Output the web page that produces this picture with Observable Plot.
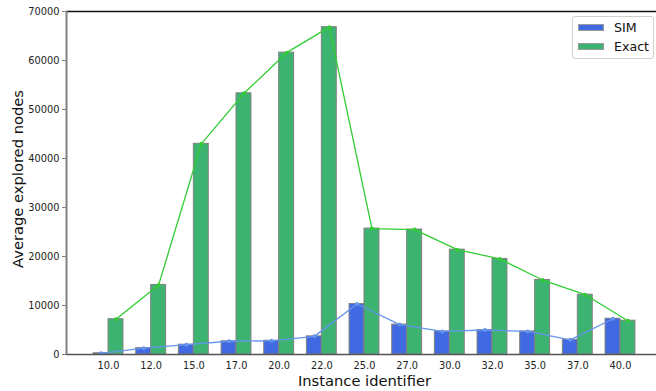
<!DOCTYPE html>
<html>
<head>
<meta charset="utf-8">
<script src="https://cdn.jsdelivr.net/npm/d3@7"></script>
<script src="https://cdn.jsdelivr.net/npm/@observablehq/plot@0.6"></script>
<style>
  body { margin: 0; background: #fff; }
  #wrap { position: relative; width: 656px; height: 391px; overflow: hidden; font-family: "DejaVu Sans", sans-serif; }
  #legend { position: absolute; left: 572px; top: 16px; width: 82px; height: 43px; border: 1px solid #d0d0d0; border-radius: 3px; background: rgba(255,255,255,0.8); box-sizing: border-box; }
  .item { position: absolute; left: 5px; display: flex; align-items: center; font-size: 12.6px; color: #111; }
  .sw { width: 26px; height: 7px; margin-right: 10px; box-sizing: border-box; }
</style>
</head>
<body>
<div id="wrap"></div>
<script>
const categories = ["10.0","12.0","15.0","17.0","20.0","22.0","25.0","27.0","30.0","32.0","35.0","37.0","40.0"];
const simValues = [250, 1300, 2000, 2700, 2800, 3700, 10300, 6100, 4700, 5000, 4700, 3000, 7300];
const exactValues = [7200, 14200, 43000, 53300, 61600, 66800, 25700, 25500, 21400, 19500, 15200, 12200, 6900];
const seriesNames = ["SIM", "Exact"];
const barColors = ["#4169E1", "#3CB371"];
const lineColors = ["#6495ED", "#32CD32"];
const yTicks = [0, 10000, 20000, 30000, 40000, 50000, 60000, 70000];

const rows = categories.map((c, i) => ({i, c, sim: simValues[i], exact: exactValues[i]}));
const W = 0.35;

const chart = Plot.plot({
  width: 656,
  height: 391,
  marginLeft: 66,
  marginRight: 0,
  marginTop: 11,
  marginBottom: 37,
  style: {fontFamily: "DejaVu Sans", fontSize: "9.8px", color: "#222", background: "white"},
  x: {type: "linear", domain: [-0.985, 12.985], range: [66, 662]},
  y: {domain: [0, 70000]},
  marks: [
    Plot.rectY(rows, {x1: d => d.i - W, x2: d => d.i, y1: 0, y2: "sim", fill: barColors[0], stroke: "#808080", strokeWidth: 1}),
    Plot.rectY(rows, {x1: d => d.i, x2: d => d.i + W, y1: 0, y2: "exact", fill: barColors[1], stroke: "#808080", strokeWidth: 1}),
    Plot.line(rows, {x: d => d.i - W / 2, y: "sim", stroke: lineColors[0], strokeWidth: 1.3}),
    Plot.dot(rows, {x: d => d.i - W / 2, y: "sim", fill: lineColors[0], r: 2}),
    Plot.line(rows, {x: d => d.i + W / 2, y: "exact", stroke: lineColors[1], strokeWidth: 1.3}),
    Plot.dot(rows, {x: d => d.i + W / 2, y: "exact", fill: lineColors[1], r: 2}),
    Plot.axisY({ticks: yTicks, tickFormat: d => String(d), tickSize: 4, tickPadding: 3, stroke: "#808080", label: null}),
    Plot.axisX({ticks: d3.range(categories.length), tickFormat: i => categories[i], tickSize: 0, tickPadding: 8, label: null}),
    Plot.ruleY([70000], {stroke: "#111", strokeWidth: 1.5}),
    Plot.ruleY([0], {stroke: "#555", strokeWidth: 1.5}),
    Plot.ruleX([-0.985], {stroke: "#808080", strokeWidth: 2}),
    Plot.text(["Average explored nodes"], {frameAnchor: "left", text: d => d, rotate: -90, textAnchor: "middle", lineAnchor: "middle", dx: -48, dy: -4, fontSize: 14.7, fill: "#111"}),
    Plot.text(["Instance identifier"], {frameAnchor: "bottom", text: d => d, textAnchor: "middle", lineAnchor: "middle", dx: 3, dy: 27, fontSize: 14.7, fill: "#111"})
  ]
});

const wrap = document.getElementById("wrap");
wrap.appendChild(chart);

const legend = document.createElement("div");
legend.id = "legend";
seriesNames.forEach((name, k) => {
  const item = document.createElement("div");
  item.className = "item";
  item.style.top = (k === 0 ? 3 : 22) + "px";
  const sw = document.createElement("div");
  sw.className = "sw";
  sw.style.background = barColors[k];
  sw.style.border = "1px solid #9a9a9a";
  const label = document.createElement("span");
  label.textContent = name;
  item.appendChild(sw);
  item.appendChild(label);
  legend.appendChild(item);
});
wrap.appendChild(legend);
</script>
</body>
</html>
